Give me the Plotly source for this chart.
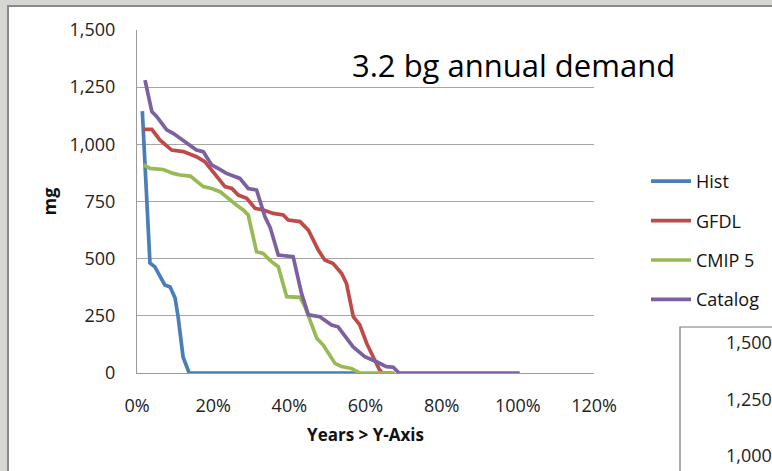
import plotly.graph_objects as go

# ---- data (x in fraction of years, y in mg) ----
hist_x = [0.014, 0.034, 0.047, 0.060, 0.073, 0.087, 0.100, 0.108, 0.121, 0.137, 0.150, 0.580]
hist_y = [1145, 481, 464, 428, 385, 376, 328, 245, 70, 0, 0, 0]

gfdl_x = [0.017, 0.039, 0.060, 0.091, 0.122, 0.156, 0.178, 0.200, 0.231, 0.249, 0.266, 0.288,
          0.310, 0.332, 0.358, 0.384, 0.397, 0.428, 0.450, 0.476, 0.493, 0.515, 0.537, 0.550,
          0.568, 0.585, 0.603, 0.620, 0.636, 0.644, 0.670]
gfdl_y = [1065, 1065, 1019, 975, 968, 946, 924, 880, 815, 807, 778, 764,
          720, 713, 698, 691, 669, 662, 625, 538, 494, 479, 436, 392,
          246, 210, 130, 71, 16, 0, 0]

cmip_x = [0.017, 0.034, 0.069, 0.095, 0.113, 0.140, 0.174, 0.196, 0.218, 0.244, 0.261, 0.279,
          0.292, 0.301, 0.314, 0.331, 0.353, 0.371, 0.393, 0.428, 0.441, 0.472, 0.489, 0.520,
          0.537, 0.563, 0.585, 0.677]
cmip_y = [910, 895, 890, 873, 866, 861, 815, 807, 793, 756, 735, 713,
          691, 625, 530, 523, 487, 465, 334, 331, 290, 152, 122, 42,
          28, 20, 0, 0]

cat_x = [0.021, 0.039, 0.052, 0.078, 0.095, 0.125, 0.156, 0.174, 0.196, 0.213, 0.235, 0.270,
         0.292, 0.314, 0.336, 0.350, 0.371, 0.410, 0.432, 0.450, 0.480, 0.511, 0.528, 0.567,
         0.598, 0.629, 0.655, 0.673, 0.688, 1.005]
cat_y = [1281, 1143, 1121, 1063, 1048, 1010, 975, 968, 910, 895, 873, 851,
         807, 800, 683, 635, 516, 509, 348, 254, 246, 210, 202, 115,
         71, 49, 28, 25, 0, 0]

series = [
    ("Hist", hist_x, hist_y, "#4a7ebb"),
    ("GFDL", gfdl_x, gfdl_y, "#be4b48"),
    ("CMIP 5", cmip_x, cmip_y, "#98b954"),
    ("Catalog", cat_x, cat_y, "#7d60a0"),
]

y_ticks = [0, 250, 500, 750, 1000, 1250, 1500]
x_ticks = [0, 0.2, 0.4, 0.6, 0.8, 1.0, 1.2]
inset_labels = ["1,500", "1,250", "1,000"]

FONT = "Open Sans"

fig = go.Figure()
for name, xs, ys, col in series:
    fig.add_trace(go.Scatter(x=xs, y=ys, mode="lines", name=name,
                             legendgroup=name,
                             line=dict(color=col, width=3.7)))

W, H = 772, 471
L, R, T, B = 137, 178, 30, 98
PW, PH = W - L - R, H - T - B


def px(x):
    return (x - L) / PW


def py(y):
    return (H - y - B) / PH


fig.update_layout(
    width=W, height=H,
    margin=dict(l=L, r=R, t=T, b=B),
    paper_bgcolor="#d6d6d2",
    plot_bgcolor="white",
    font=dict(family=FONT, size=18, color="#222"),
    showlegend=True,
    legend=dict(xref="container", yref="container",
                x=646 / W, y=1 - 163 / H, xanchor="left", yanchor="top",
                font=dict(size=18, color="#111"),
                tracegroupgap=13, bgcolor="rgba(0,0,0,0)",
                itemwidth=40),
    xaxis=dict(range=[0, 1.2], tickvals=x_ticks, tickformat=".0%",
               showgrid=False, showline=True, linecolor="#9a9a9a", linewidth=1,
               ticks="outside", ticklen=16, tickcolor="rgba(0,0,0,0)", zeroline=False,
               tickfont=dict(size=18, color="#222"),
               title=dict(text="<b>Years > Y-Axis</b>", font=dict(size=17, color="#111"),
                          standoff=13)),
    yaxis=dict(range=[0, 1500], tickvals=y_ticks, tickformat=",",
               showgrid=True, gridcolor="#a6a6a6", gridwidth=1,
               showline=True, linecolor="#9a9a9a", linewidth=1,
               ticks="outside", ticklen=17, tickcolor="rgba(0,0,0,0)", zeroline=False,
               tickfont=dict(size=18, color="#222"),
               title=dict(text="<b>mg</b>", font=dict(size=18, color="#111"),
                          standoff=8)),
)

# white chart box
fig.add_shape(type="rect", xref="paper", yref="paper",
              x0=px(8), x1=px(W + 20), y0=py(480), y1=py(6),
              fillcolor="white", line=dict(color="#8a8a8a", width=2), layer="below")

# partial second chart box in lower right
fig.add_shape(type="rect", xref="paper", yref="paper",
              x0=px(680), x1=px(W + 20), y0=py(490), y1=py(327),
              fillcolor="white", line=dict(color="#7a7a7a", width=1.2), layer="above")

for lbl, ypos in zip(inset_labels, [342, 399, 455]):
    fig.add_annotation(xref="paper", yref="paper",
                       x=px(724), y=py(ypos),
                       text=lbl, showarrow=False, xanchor="left", yanchor="middle",
                       font=dict(size=18, color="#222"))

# title
fig.add_annotation(xref="paper", yref="paper",
                   x=px(350), y=py(65),
                   text="3.2 bg annual demand", showarrow=False,
                   xanchor="left", yanchor="middle",
                   font=dict(size=31, color="#000", family=FONT))

fig.write_html("out.html")
